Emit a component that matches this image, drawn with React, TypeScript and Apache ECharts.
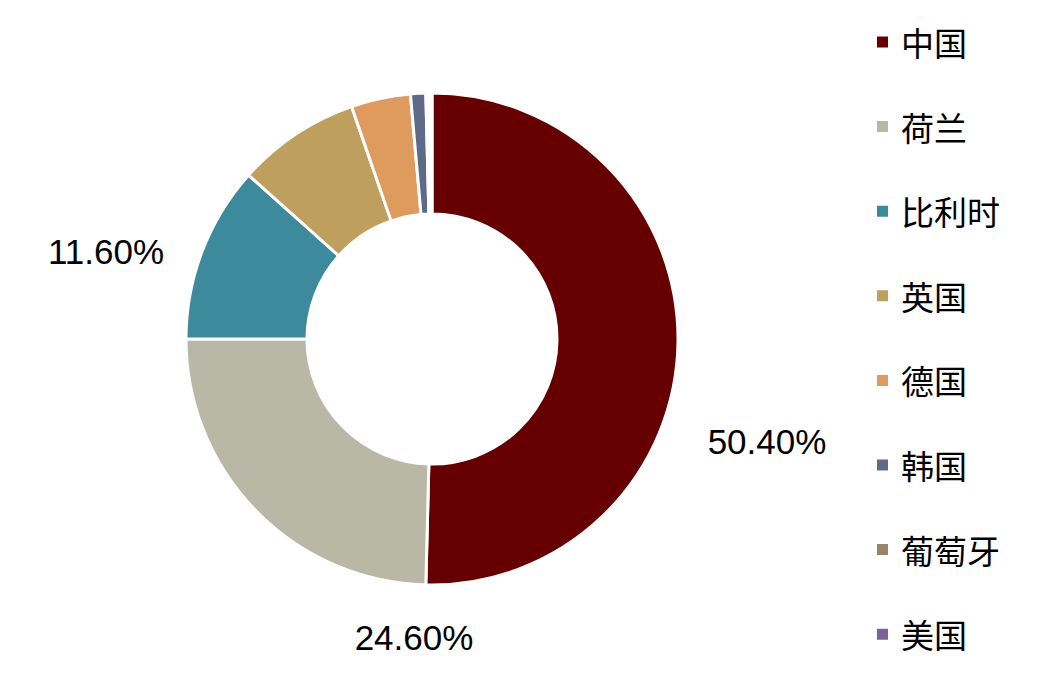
import React, { useEffect, useRef } from "react";
import * as echarts from "echarts";

const countries = ["中国", "荷兰", "比利时", "英国", "德国", "韩国", "葡萄牙", "美国"];
const shares = [50.4, 24.6, 11.6, 8.1, 3.9, 1.0, 0.2, 0.2];
const colors = ["#660000", "#B9B8A6", "#3C8A9B", "#BF9F5E", "#DF9A5E", "#5E6A87", "#9A8468", "#7D619A"];
const labelledCount = 3;
const labelSpots = [
  [767, 441],
  [414, 637],
  [106, 251],
];

export default function App() {
  const ref = useRef<HTMLDivElement>(null);
  useEffect(() => {
    const chart = echarts.init(ref.current!, undefined, { renderer: "svg" });
    chart.setOption({
      animation: false,
      backgroundColor: "#ffffff",
      color: colors,
      legend: {
        orient: "vertical",
        left: 870,
        top: 20,
        itemWidth: 13,
        itemHeight: 13,
        itemGap: 50.6,
        icon: "rect",
        data: countries,
        textStyle: {
          fontSize: 33,
          lineHeight: 34,
          color: "#000",
          padding: [0, 0, 0, 7],
          fontFamily: "'Noto Sans CJK SC', sans-serif",
        },
      },
      series: [
        {
          type: "pie",
          center: [432, 339],
          radius: [125, 246],
          startAngle: 90,
          clockwise: true,
          avoidLabelOverlap: false,
          itemStyle: { borderColor: "#ffffff", borderWidth: 3 },
          label: {
            show: true,
            position: "outside",
            fontSize: 35,
            color: "#000",
            fontFamily: "'Liberation Sans', Arial, sans-serif",
            formatter: (p: any) => (p.dataIndex < labelledCount ? p.value.toFixed(2) + "%" : ""),
          },
          labelLine: { show: false },
          labelLayout: (p: any) => {
            const s = labelSpots[p.dataIndex];
            if (!s) return {};
            return { x: s[0], y: s[1], align: "center", verticalAlign: "middle" };
          },
          emphasis: { disabled: true },
          data: countries.map((c, i) => ({ name: c, value: shares[i] })),
        },
      ],
    });
    return () => chart.dispose();
  }, []);
  return <div ref={ref} style={{ position: "fixed", left: 0, top: 0, width: 1052, height: 681 }} />;
}
